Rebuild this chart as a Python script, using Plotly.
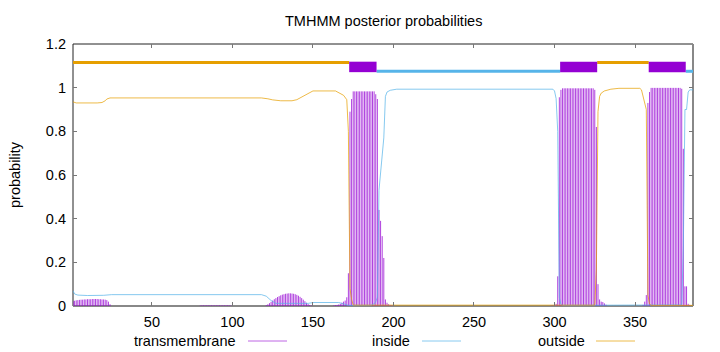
import plotly.graph_objects as go

# ---------------- data ----------------
seq_len = 386
x_ticks = [50, 100, 150, 200, 250, 300, 350]
y_ticks = [0, 0.2, 0.4, 0.6, 0.8, 1.0, 1.2]
y_tick_labels = ["0", "0.2", "0.4", "0.6", "0.8", "1", "1.2"]

# transmembrane posterior (residue, probability) - residues not listed are ~0
tm_res = (list(range(1, 25)) + list(range(80, 100)) + list(range(121, 150))
          + list(range(163, 201)) + list(range(298, 333)) + list(range(355, 385)))
tm_prob = (
    [0.022, 0.024, 0.026, 0.027, 0.028, 0.029, 0.029, 0.030, 0.030, 0.031, 0.031, 0.031,
     0.032, 0.032, 0.032, 0.032, 0.031, 0.031, 0.030, 0.030, 0.029, 0.027, 0.020, 0.008]
    + [0.002, 0.003, 0.003, 0.003, 0.003, 0.003, 0.003, 0.003, 0.003, 0.003,
       0.003, 0.003, 0.003, 0.003, 0.003, 0.003, 0.003, 0.003, 0.003, 0.002]
    + [0.004, 0.008, 0.013, 0.019, 0.025, 0.031, 0.036, 0.041, 0.045, 0.049, 0.052, 0.054,
       0.056, 0.057, 0.058, 0.058, 0.057, 0.056, 0.054, 0.051, 0.047, 0.042, 0.036, 0.029,
       0.022, 0.015, 0.009, 0.005, 0.002]
    + [0.003, 0.004, 0.005, 0.007, 0.010, 0.015, 0.020, 0.025, 0.040, 0.150,
       0.890, 0.948, 0.983, 0.983, 0.983, 0.983, 0.983, 0.983, 0.983, 0.983, 0.983, 0.983,
       0.983, 0.983, 0.983, 0.983, 0.970, 0.948, 0.440, 0.390, 0.320, 0.220, 0.030, 0.015,
       0.008, 0.004, 0.003, 0.002]
    + [0.002, 0.003, 0.005, 0.010, 0.136, 0.956, 0.990, 0.997, 0.997, 0.997, 0.997, 0.997,
       0.997, 0.997, 0.997, 0.997, 0.997, 0.997, 0.997, 0.997, 0.997, 0.997, 0.997, 0.997,
       0.997, 0.997, 0.997, 0.990, 0.820, 0.100, 0.030, 0.020, 0.018, 0.012, 0.006]
    + [0.005, 0.020, 0.050, 0.930, 0.980, 0.999, 0.999, 0.999, 0.999, 0.999, 0.999, 0.999,
       0.999, 0.999, 0.999, 0.999, 0.999, 0.999, 0.999, 0.999, 0.999, 0.999, 0.999, 0.999,
       0.995, 0.720, 0.090, 0.090, 0.010, 0.005]
)

# inside posterior (residue, probability)
in_res = [1, 2, 4, 10, 20, 25, 60, 118, 121, 124, 127, 140, 147, 150, 166, 168, 170, 172,
          186, 188, 189, 190, 191, 192, 193, 194, 195, 196, 198, 202, 299, 300, 301, 302,
          303, 304, 305, 378, 379, 380, 381, 382, 383, 384, 386]
in_prob = [0.070, 0.055, 0.050, 0.048, 0.049, 0.052, 0.052, 0.052, 0.045, 0.025, 0.012,
           0.010, 0.012, 0.016, 0.016, 0.012, 0.006, 0.003, 0.003, 0.010, 0.020, 0.040,
           0.530, 0.600, 0.670, 0.770, 0.960, 0.980, 0.988, 0.993, 0.993, 0.985, 0.950,
           0.800, 0.040, 0.008, 0.003, 0.003, 0.005, 0.270, 0.900, 0.900, 0.980, 0.990, 0.990]

# outside posterior (residue, probability)
out_res = [1, 3, 16, 19, 21, 22, 24, 118, 122, 125, 130, 137, 140, 144, 147, 150, 164,
           166, 169, 171, 172, 173, 174, 175, 325, 326, 327, 328, 329, 331, 335, 340, 353,
           354, 355, 356, 357, 358, 359, 360, 386]
out_prob = [0.935, 0.930, 0.930, 0.932, 0.940, 0.948, 0.953, 0.953, 0.949, 0.944, 0.940,
            0.940, 0.945, 0.960, 0.975, 0.985, 0.985, 0.978, 0.965, 0.945, 0.800, 0.080,
            0.030, 0.004, 0.004, 0.170, 0.890, 0.960, 0.975, 0.985, 0.993, 0.997, 0.997,
            0.990, 0.960, 0.930, 0.900, 0.050, 0.010, 0.003, 0.003]

# predicted topology segments
topo_start = [1, 173, 190, 304, 327, 359, 382]
topo_end = [172, 189, 303, 326, 358, 381, 386]
topo_kind = ["outside", "TMhelix", "inside", "TMhelix", "outside", "TMhelix", "inside"]

# ---------------- styles ----------------
PURPLE = "#9400d3"
BLUE = "#56b4e9"
ORANGE = "#e69f00"
FONT = "Liberation Sans, Arial, Helvetica, sans-serif"
FS = 14.5

L, R, T, B = 73, 27, 44, 46
W, H = 720, 352
PW, PH = W - L - R, H - T - B


def px_x(p):
    return (p - L) / PW


def px_y(p):
    return (H - B - p) / PH


fig = go.Figure()

# impulses
ix, iy = [], []
for r, p in zip(tm_res, tm_prob):
    ix += [r, r, None]
    iy += [0, p, None]
fig.add_trace(go.Scatter(x=ix, y=iy, mode="lines",
                         line=dict(color="rgba(148,0,211,0.75)", width=1.0),
                         connectgaps=False, hoverinfo="skip", showlegend=False))
fig.add_trace(go.Scatter(x=in_res, y=in_prob, mode="lines",
                         line=dict(color="rgba(86,180,233,0.8)", width=0.9),
                         showlegend=False))
fig.add_trace(go.Scatter(x=out_res, y=out_prob, mode="lines",
                         line=dict(color="rgba(230,159,0,0.8)", width=0.9),
                         showlegend=False))

# topology
shapes = []
for s, e, k in zip(topo_start, topo_end, topo_kind):
    if k == "TMhelix":
        shapes.append(dict(type="rect", xref="x", yref="y", x0=s - 0.5, x1=e + 0.5,
                           y0=1.071, y1=1.119, fillcolor=PURPLE, line=dict(width=0),
                           layer="above"))
    else:
        lvl = 1.115 if k == "outside" else 1.075
        col = ORANGE if k == "outside" else BLUE
        fig.add_trace(go.Scatter(x=[s - 0.5, e + 0.5], y=[lvl, lvl], mode="lines",
                                 line=dict(color=col, width=3), showlegend=False,
                                 hoverinfo="skip"))

# frame
shapes += [
    dict(type="line", xref="paper", yref="paper", x0=0, x1=1, y0=1, y1=1,
         line=dict(color="#222", width=1), layer="below"),
    dict(type="line", xref="paper", yref="paper", x0=0, x1=0, y0=0, y1=1,
         line=dict(color="#222", width=1), layer="below"),
    dict(type="line", xref="paper", yref="paper", x0=0, x1=1, y0=0, y1=0,
         line=dict(color="#888", width=2), layer="below"),
    dict(type="line", xref="paper", yref="paper", x0=1, x1=1, y0=0, y1=1,
         line=dict(color="#888", width=2), layer="below"),
]

# legend (text then line sample)
legend_items = [("transmembrane", "rgba(148,0,211,0.6)", 238, 248, 287),
                ("inside", "rgba(86,180,233,0.7)", 412, 422, 461),
                ("outside", "rgba(230,159,0,0.7)", 587, 596, 635)]
annotations = []
ly = 341
for name, col, txt_right, l0, l1 in legend_items:
    annotations.append(dict(text=name, xref="paper", yref="paper", x=px_x(txt_right),
                            y=px_y(ly), xanchor="right", yanchor="middle", showarrow=False,
                            font=dict(family=FONT, size=FS, color="#000")))
    shapes.append(dict(type="line", xref="paper", yref="paper", x0=px_x(l0), x1=px_x(l1),
                       y0=px_y(ly), y1=px_y(ly), line=dict(color=col, width=1)))

annotations.append(dict(text="probability", xref="paper", yref="paper", x=px_x(15),
                        y=0.5, textangle=-90, xanchor="center", yanchor="middle",
                        showarrow=False, font=dict(family=FONT, size=FS, color="#000")))
annotations.append(dict(text="TMHMM posterior probabilities", xref="paper", yref="paper",
                        x=0.5, y=px_y(21), xanchor="center", yanchor="middle",
                        showarrow=False, font=dict(family=FONT, size=FS, color="#000")))

fig.update_layout(
    width=W, height=H, margin=dict(l=L, r=R, t=T, b=B, pad=0),
    plot_bgcolor="white", paper_bgcolor="white",
    font=dict(family=FONT, size=FS, color="#000"),
    shapes=shapes, annotations=annotations, showlegend=False,
    xaxis=dict(range=[1, seq_len], tickvals=x_ticks, ticks="inside", ticklen=4,
               tickcolor="#777", mirror="ticks", showline=False, showgrid=False,
               zeroline=False, ticklabelstandoff=5),
    yaxis=dict(range=[0, 1.2], tickvals=y_ticks, ticktext=y_tick_labels, ticks="inside",
               ticklen=4, tickcolor="#777", mirror="ticks", showline=False,
               showgrid=False, zeroline=False, ticklabelstandoff=6),
)

fig.write_html("out.html")
